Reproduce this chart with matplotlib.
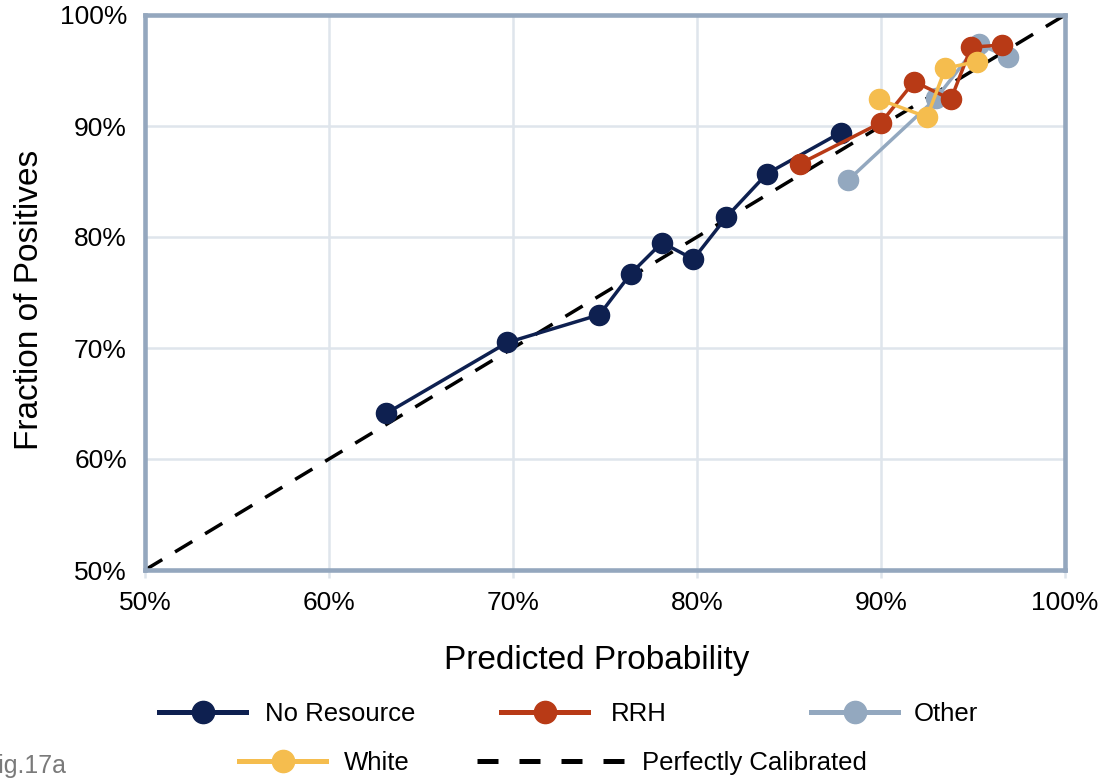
import matplotlib
matplotlib.use("Agg")
import matplotlib.pyplot as plt
from matplotlib.lines import Line2D

plt.rcParams['font.family'] = ['Liberation Sans', 'DejaVu Sans']

# ---- data (percent) ----
no_resource_x = [63.1, 69.7, 74.7, 76.4, 78.1, 79.8, 81.6, 83.8, 87.8]
no_resource_y = [64.1, 70.5, 73.0, 76.7, 79.5, 78.0, 81.8, 85.7, 89.4]

rrh_x = [85.6, 90.0, 91.8, 93.8, 94.9, 96.6]
rrh_y = [86.6, 90.3, 94.0, 92.4, 97.1, 97.3]

other_x = [88.2, 93.0, 95.3, 96.9]
other_y = [85.1, 92.5, 97.4, 96.2]

white_x = [89.9, 92.5, 93.5, 95.2]
white_y = [92.4, 90.8, 95.2, 95.8]

ideal_x = [50, 100]
ideal_y = [50, 100]

ticks = [50, 60, 70, 80, 90, 100]
tick_labels = ['50%', '60%', '70%', '80%', '90%', '100%']

# ---- styles ----
C_NAVY = '#0e2050'
C_RRH = '#b83a16'
C_OTHER = '#93a8bf'
C_WHITE = '#f5bd4e'
C_FRAME = '#94a7be'
C_GRID = '#dfe5ec'

fig = plt.figure(figsize=(11.14, 7.82), dpi=100)
ax = fig.add_axes([145/1114, 1 - 570/782, (1065-145)/1114, (570-15)/782])

ax.set_xlim(50, 100)
ax.set_ylim(50, 100)
ax.set_xticks(ticks)
ax.set_xticklabels(tick_labels)
ax.set_yticks(ticks)
ax.set_yticklabels(tick_labels)
ax.grid(True, color=C_GRID, linewidth=1.8, zorder=0)
ax.set_axisbelow(True)
ax.tick_params(axis='x', length=6, width=1.8, color=C_GRID, labelsize=19, pad=9)
ax.tick_params(axis='y', length=0, labelsize=19, pad=13)
for s in ax.spines.values():
    s.set_color(C_FRAME)
    s.set_linewidth(3.3)
    s.set_zorder(5)

lw = 2.5
ms = 14.5
ax.plot(ideal_x, ideal_y, color='black', lw=2.5, dashes=(5.8, 4.3), zorder=2)
ax.plot(no_resource_x, no_resource_y, color=C_NAVY, lw=lw, marker='o', ms=ms, zorder=3)
ax.plot(other_x, other_y, color=C_OTHER, lw=lw, marker='o', ms=ms, zorder=3)
ax.plot(rrh_x, rrh_y, color=C_RRH, lw=lw, marker='o', ms=ms, zorder=3)
ax.plot(white_x, white_y, color=C_WHITE, lw=lw, marker='o', ms=ms, zorder=3)

ax.set_xlabel('Predicted Probability', fontsize=24)
ax.xaxis.label.set_va('center')
ax.xaxis.set_label_coords(0.491, (570-660)/555)
ax.set_ylabel('Fraction of Positives', fontsize=24)
ax.yaxis.label.set_va('center')
ax.yaxis.set_label_coords((30-145)/920, (570-300)/555)

# ---- legend: individual entries placed like the reference ----
def entry(handle, label, x_px, y_px, hl, pad):
    lg = fig.legend(handles=[handle], labels=[label], loc='center left',
                    bbox_to_anchor=(x_px/1114, 1 - y_px/782), frameon=False,
                    borderpad=0, borderaxespad=0, handlelength=hl,
                    handletextpad=pad, fontsize=18.5, numpoints=1)
    return lg

def mk(color):
    return Line2D([0], [0], color=color, lw=3.6, marker='o', ms=16)

entry(mk(C_NAVY), 'No Resource', 159, 714, 3.4, 0.74)
entry(mk(C_RRH), 'RRH', 501, 714, 3.4, 0.86)
entry(mk(C_OTHER), 'Other', 811, 714, 3.4, 0.58)
entry(mk(C_WHITE), 'White', 239, 763, 3.4, 0.7)
entry(Line2D([0], [0], color='black', lw=3.6, dashes=(4.2, 4.2)),
      'Perfectly Calibrated', 477, 763, 5.75, 0.66)

fig.text(-0.015, 1 - 766/782, 'Fig.17a', fontsize=18, color='#7a7a7a', va='center', ha='left')

fig.savefig('out.png', dpi=100)
